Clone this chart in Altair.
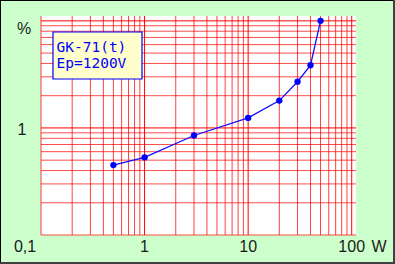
import altair as alt
import pandas as pd

# Data
power_w = [0.5, 1, 3, 10, 20, 30, 40, 50]
distortion_pct = [0.45, 0.53, 0.85, 1.24, 1.80, 2.70, 3.85, 10.0]

x_grid = [0.1, 0.2, 0.3, 0.4, 0.5, 0.6, 0.7, 0.8, 0.9, 1, 2, 3, 4, 5, 6, 7, 8, 9, 10,
          20, 30, 40, 50, 60, 70, 80, 90, 100]
y_grid = [0.1, 0.2, 0.3, 0.4, 0.5, 0.6, 0.7, 0.8, 0.9, 1, 2, 3, 4, 5, 6, 7, 8, 9, 10]
x_major = [1, 10, 100]
y_major = [1, 10]

x_tick_vals = [1, 10, 100]
x_tick_text = ["1", "10", "100"]
corner_label = "0,1"
x_unit = "W"
y_tick_text = "1"
y_unit = "%"
legend_lines = ["GK-71(t)", "Ep=1200V"]

W, H = 315, 219
xs = alt.Scale(type="log", domain=[0.1, 110], nice=False)
ys = alt.Scale(type="log", domain=[0.1, 11.1], nice=False)

df = pd.DataFrame({"P": power_w, "D": distortion_pct})
gx = pd.DataFrame({"v": x_grid, "major": [v in x_major for v in x_grid]})
gy = pd.DataFrame({"v": y_grid, "major": [v in y_major for v in y_grid]})

grid_v = alt.Chart(gx).mark_rule(color="#ff0000", strokeWidth=1).encode(
    x=alt.X("v:Q", scale=xs, axis=None),
    opacity=alt.condition("datum.major", alt.value(1.0), alt.value(0.75)),
)
grid_h = alt.Chart(gy).mark_rule(color="#ff0000", strokeWidth=1).encode(
    y=alt.Y("v:Q", scale=ys, axis=None),
    opacity=alt.condition("datum.major", alt.value(1.0), alt.value(0.7)),
)

line = alt.Chart(df).mark_line(color="#1010ff", strokeWidth=1.3).encode(
    x=alt.X("P:Q", scale=xs, axis=None),
    y=alt.Y("D:Q", scale=ys, axis=None),
)
pts = alt.Chart(df).mark_circle(color="#0000ff", size=40, opacity=1).encode(
    x=alt.X("P:Q", scale=xs, axis=None),
    y=alt.Y("D:Q", scale=ys, axis=None),
)

box = alt.Chart(pd.DataFrame({"a": [0]})).mark_rect(
    fill="#ffffcc", stroke="#0000ff", strokeWidth=1.2
).encode(x=alt.value(12), x2=alt.value(101), y=alt.value(16), y2=alt.value(63))

leg1 = alt.Chart(pd.DataFrame({"t": [legend_lines[0]]})).mark_text(
    font="DejaVu Sans Mono", fontSize=14.5, color="#0000ff", align="left", baseline="alphabetic"
).encode(text="t:N", x=alt.value(15.5), y=alt.value(36))
leg2 = alt.Chart(pd.DataFrame({"t": [legend_lines[1]]})).mark_text(
    font="DejaVu Sans Mono", fontSize=14.5, color="#0000ff", align="left", baseline="alphabetic"
).encode(text="t:N", x=alt.value(15.5), y=alt.value(52))

lab_font = dict(font="Liberation Sans", fontSize=16, color="#1a1a1a", baseline="alphabetic")

xlab = alt.Chart(pd.DataFrame({"v": x_tick_vals, "t": x_tick_text})).mark_text(
    align="center", **lab_font
).encode(x=alt.X("v:Q", scale=xs, axis=None), y=alt.value(H + 17), text="t:N")

corner = alt.Chart(pd.DataFrame({"t": [corner_label]})).mark_text(
    align="center", **lab_font
).encode(x=alt.value(-16), y=alt.value(H + 17), text="t:N")

wlab = alt.Chart(pd.DataFrame({"t": [x_unit]})).mark_text(
    align="center", **lab_font
).encode(x=alt.value(338), y=alt.value(H + 17), text="t:N")

ylab = alt.Chart(pd.DataFrame({"v": [1], "t": [y_tick_text]})).mark_text(
    align="center", dy=7, **lab_font
).encode(x=alt.value(-19), y=alt.Y("v:Q", scale=ys, axis=None), text="t:N")

pct = alt.Chart(pd.DataFrame({"t": [y_unit]})).mark_text(
    align="center", **lab_font
).encode(x=alt.value(-17), y=alt.value(18), text="t:N")

one = pd.DataFrame({"a": [0]})
b_top = alt.Chart(one).mark_rule(color="#000000", strokeWidth=1).encode(
    x=alt.value(-41), x2=alt.value(395 - 41), y=alt.value(-15.5))
b_left = alt.Chart(one).mark_rule(color="#000000", strokeWidth=1).encode(
    x=alt.value(-40.5), y=alt.value(-16), y2=alt.value(264 - 16))
b_right = alt.Chart(one).mark_rule(color="#404040", strokeWidth=2).encode(
    x=alt.value(395 - 41 - 1), y=alt.value(-16), y2=alt.value(264 - 16))
b_bot = alt.Chart(one).mark_rule(color="#404040", strokeWidth=2).encode(
    x=alt.value(-41), x2=alt.value(395 - 41), y=alt.value(264 - 16 - 1))

chart = alt.layer(
    grid_v, grid_h, line, pts, box, leg1, leg2, xlab, corner, wlab, ylab, pct,
    b_top, b_left, b_right, b_bot
).properties(
    width=W, height=H,
    autosize=alt.AutoSizeParams(type="none"),
    padding={"left": 41, "top": 16, "right": 39, "bottom": 29},
    background="#ccffcc",
).configure_view(fill="#ffffff", stroke=None)

chart.save("out.html", embed_options={"renderer": "svg", "actions": False})
